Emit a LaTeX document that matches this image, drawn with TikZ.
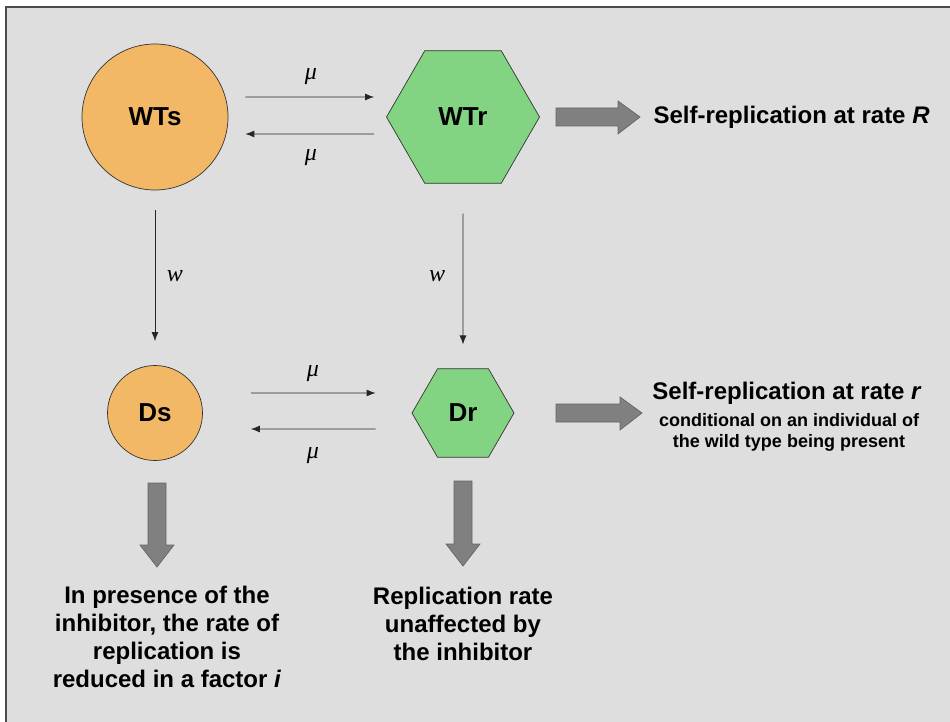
\documentclass[tikz,border=0pt]{standalone}
\usepackage{fontspec}
\setmainfont{Liberation Sans}
\newfontfamily\timesf{Liberation Serif}
\usetikzlibrary{arrows.meta,shapes.geometric}
\definecolor{bgc}{HTML}{DEDEDE}
\definecolor{orng}{HTML}{F2B866}
\definecolor{grn}{HTML}{82D482}
\definecolor{fatc}{HTML}{808080}
\tikzset{
  x=1pt,y=1pt,
  sph/.style={circle,draw=black!80,line width=0.7pt,fill=orng,font=\bfseries\fontsize{26}{30}\selectfont,inner sep=0pt},
  hexa/.style={regular polygon,regular polygon sides=6,draw=black!80,line width=0.7pt,fill=grn,font=\bfseries\fontsize{26}{30}\selectfont,inner sep=0pt},
  thin arrow/.style={-{Latex[length=9pt,width=7pt]},line width=0.9pt,draw=black!85},
  fat/.style={draw=black!60,fill=fatc,line width=0.7pt},
  greek/.style={font=\timesf\itshape\fontsize{24}{28}\selectfont},
  lbl/.style={font=\bfseries\fontsize{24}{28}\selectfont,align=center},
  sub/.style={font=\bfseries\fontsize{18}{21}\selectfont,align=center}
}
\begin{document}
\begin{tikzpicture}
\useasboundingbox (0,0) rectangle (950,-722);
\fill[bgc] (6,-7) rectangle (950,-722);
\draw[black!70,line width=1.5pt] (6,-722) -- (6,-7) -- (950,-7);

\node[sph,minimum size=146pt] (WTs) at (155,-117) {WTs};
\node[hexa,minimum size=153pt] (WTr) at (463,-117) {WTr};
\node[sph,minimum size=95pt] (Ds) at (155,-413) {Ds};
\node[hexa,minimum size=102pt] (Dr) at (463,-413) {Dr};

% horizontal mu arrows (top)
\draw[thin arrow] ([shift={(17,20)}]WTs.east) -- ([shift={(-12,20)}]WTr.west);
\draw[thin arrow] ([shift={(-12,-17)}]WTr.west) -- ([shift={(17,-17)}]WTs.east);
\node[greek] (m1) at (311,-77) {μ};
\node[greek] (m2) at (311,-158) {μ};

% horizontal mu arrows (middle)
\draw[thin arrow] ([shift={(48,20)}]Ds.east) -- ([shift={(-36,20)}]Dr.west);
\draw[thin arrow] ([shift={(-36,-16)}]Dr.west) -- ([shift={(48,-16)}]Ds.east);
\node[greek] (m3) at (313,-374) {μ};
\node[greek] (m4) at (313,-456) {μ};

% vertical w arrows
\draw[thin arrow] ([yshift=-20]WTs.south) -- ([yshift=24]Ds.north);
\draw[thin arrow] ([yshift=-30]WTr.south) -- ([yshift=24]Dr.north);
\node[greek] (w1) at (175,-276) {w};
\node[greek] (w2) at (437,-276) {w};

% fat arrows right
\draw[fat] (556,-108) -- (618,-108) -- (618,-101) -- (640,-117) -- (618,-134) -- (618,-126) -- (556,-126) -- cycle;
\draw[fat] (556,-404) -- (620,-404) -- (620,-397) -- (642,-413) -- (620,-430) -- (620,-422) -- (556,-422) -- cycle;
% fat arrows down
\draw[fat] (148,-483) -- (166,-483) -- (166,-545) -- (174,-545) -- (157,-567) -- (140,-545) -- (148,-545) -- cycle;
\draw[fat] (454,-481) -- (472,-481) -- (472,-544) -- (480,-544) -- (463,-566) -- (446,-544) -- (454,-544) -- cycle;

\node[lbl,anchor=west] (t1) at (650,-117) {Self-replication at rate \textit{R}};
\node[lbl] (t2) at (787,-393) {Self-replication at rate \textit{r}};
\node[sub] (t3) at (789,-432) {conditional on an individual of\\the wild type being present};
\node[lbl] (t4) at (167,-637) {In presence of the\\inhibitor, the rate of\\replication is\\reduced in a factor \textit{i}};
\node[lbl] (t5) at (463,-624) {Replication rate\\unaffected by\\the inhibitor};
\end{tikzpicture}
\end{document}
